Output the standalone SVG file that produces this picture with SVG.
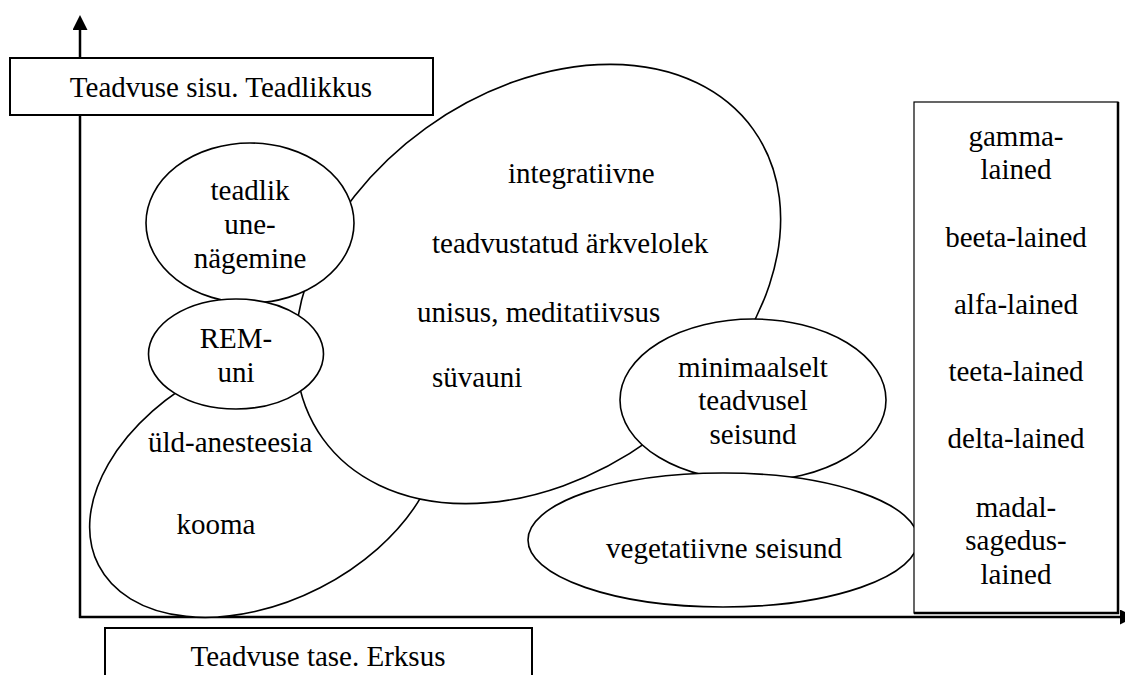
<svg xmlns="http://www.w3.org/2000/svg" width="1125" height="675" viewBox="0 0 1125 675">
<style>
  .shape { fill: #fff; stroke: #000; stroke-width: 1.6; }
  .box { fill: #fff; stroke: #000; stroke-width: 2; }
  .axis { stroke: #000; stroke-width: 2.5; fill: none; }
  text { font-family: "Liberation Serif", "Times New Roman", Times, "DejaVu Serif", serif; font-size: 29px; fill: #000; }
  .c { text-anchor: middle; }
</style>
<defs>
  <marker id="arrow" viewBox="0 0 15 15" refX="0" refY="7.5" markerUnits="userSpaceOnUse" markerWidth="15" markerHeight="15" orient="auto">
    <path d="M0,0 L15,7.5 L0,15 z" fill="#000"/>
  </marker>
</defs>
<rect width="1125" height="675" fill="#fff"/>

<g id="connectors">
  <line class="axis" x1="80" y1="618" x2="80" y2="30" marker-end="url(#arrow)"/>
  <line class="axis" x1="79" y1="617" x2="1120" y2="617" marker-end="url(#arrow)"/>
</g>

<g id="kooma">
  <ellipse class="shape" transform="translate(265 480) rotate(-27.1)" cx="0" cy="0" rx="187" ry="121"/>
  <text x="148" y="452" font-family="Liberation Serif, serif">üld-anesteesia</text>
  <text class="c" x="216" y="534" font-family="Liberation Serif, serif">kooma</text>
</g>

<g id="integratiivne">
  <ellipse class="shape" transform="translate(538 284) rotate(-35.7)" cx="0" cy="0" rx="265" ry="192"/>
  <text x="508" y="183">integratiivne</text>
  <text x="432" y="253">teadvustatud ärkvelolek</text>
  <text x="417" y="322">unisus, meditatiivsus</text>
  <text x="432" y="387">süvauni</text>
</g>

<g id="teadlik">
  <ellipse class="shape" cx="250" cy="223" rx="104" ry="80"/>
  <text class="c" x="250" y="200">teadlik</text>
  <text class="c" x="250" y="234">une-</text>
  <text class="c" x="250" y="268">nägemine</text>
</g>

<g id="rem">
  <ellipse class="shape" cx="236" cy="354" rx="87.5" ry="55"/>
  <text class="c" x="236" y="348">REM-</text>
  <text class="c" x="236" y="382">uni</text>
</g>

<g id="minimaalselt">
  <ellipse class="shape" cx="753" cy="400" rx="133" ry="81"/>
  <text class="c" x="753" y="377">minimaalselt</text>
  <text class="c" x="753" y="410">teadvusel</text>
  <text class="c" x="753" y="444">seisund</text>
</g>

<g id="vegetatiivne">
  <ellipse class="shape" cx="723" cy="540" rx="195" ry="67"/>
  <text class="c" x="724" y="558">vegetatiivne seisund</text>
</g>

<g id="lained">
  <rect x="914" y="102" width="204" height="511" fill="#fff" stroke="#000" stroke-width="1.2"/>
  <polyline points="1118,102 1118,613 914,613" fill="none" stroke="#000" stroke-width="2.5"/>
  <text class="c" x="1016" y="146">gamma-</text>
  <text class="c" x="1016" y="179">lained</text>
  <text class="c" x="1016" y="247">beeta-lained</text>
  <text class="c" x="1016" y="314">alfa-lained</text>
  <text class="c" x="1016" y="381">teeta-lained</text>
  <text class="c" x="1016" y="448">delta-lained</text>
  <text class="c" x="1016" y="517">madal-</text>
  <text class="c" x="1016" y="550">sagedus-</text>
  <text class="c" x="1016" y="584">lained</text>
</g>

<g id="teadvuse-sisu">
  <rect class="box" x="10" y="58" width="423" height="57"/>
  <text class="c" x="221" y="97">Teadvuse sisu. Teadlikkus</text>
</g>

<g id="teadvuse-tase">
  <rect class="box" x="105" y="628" width="427" height="60"/>
  <text class="c" x="318" y="666">Teadvuse tase. Erksus</text>
</g>
</svg>
